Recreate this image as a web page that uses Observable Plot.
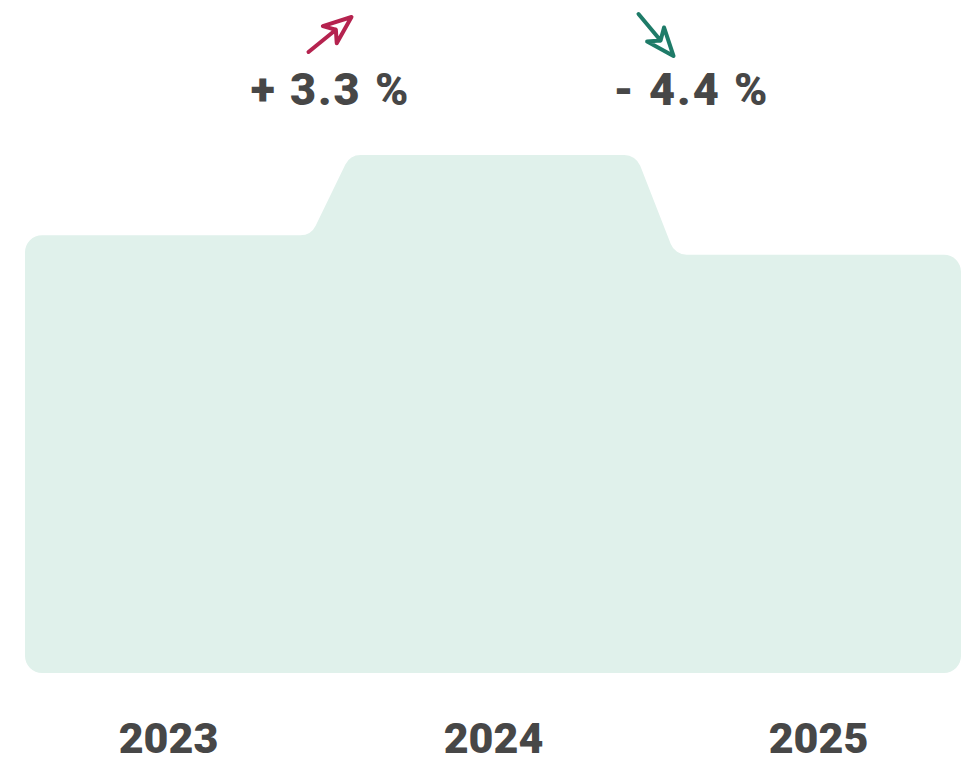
<!DOCTYPE html>
<html><head><meta charset="utf-8">
<script src="https://cdn.jsdelivr.net/npm/d3@7"></script>
<script src="https://cdn.jsdelivr.net/npm/@observablehq/plot@0.6"></script>
<style>
html,body{margin:0;padding:0;background:#fff;}
#chart svg{display:block}
</style></head><body><div id="chart"></div>
<script>
// ---- data ----
const years = [2023, 2024, 2025];
const values = [100, 103.3, 99.2];
const yBaseline = 82;
const changeLabels = ["+ 3.3 %", "- 4.4 %"];
const changeDirections = ["up", "down"];
const tickLabels = ["2023", "2024", "2025"];

// ---- style constants ----
const HALF = 0.44;                 // half band width (in year units)
const FILL = "#e0f1eb";
const TEXT = "#474747";
const UP = "#b5234f";
const DOWN = "#1e7b68";
const FONT = "Roboto, 'Liberation Sans', Arial, sans-serif";

const areaData = years.flatMap((yr, i) => [
  {x: yr - HALF, v: values[i]},
  {x: yr + HALF, v: values[i]}
]);

// custom d3 curve: polygon with rounded corners
class RoundedCurve {
  constructor(ctx, r) { this._ctx = ctx; this._r = r; this._area = false; this._pts = []; }
  areaStart() { this._area = true; this._pts = []; }
  areaEnd() { this._draw(true); this._area = false; }
  lineStart() { if (!this._area) this._pts = []; }
  lineEnd() { if (!this._area) this._draw(false); }
  point(x, y) { this._pts.push([+x, +y]); }
  _clean(pts, closed) {
    let p = pts.filter((q, i) => i === 0 || Math.hypot(q[0] - pts[i-1][0], q[1] - pts[i-1][1]) > 1e-6);
    if (closed && p.length > 1 && Math.hypot(p[0][0]-p[p.length-1][0], p[0][1]-p[p.length-1][1]) < 1e-6) p.pop();
    let changed = true;
    while (changed && p.length > 3) {
      changed = false;
      const n = p.length;
      for (let i = 0; i < n; i++) {
        if (!closed && (i === 0 || i === n - 1)) continue;
        const a = p[(i - 1 + n) % n], b = p[i], c = p[(i + 1) % n];
        const cr = (b[0]-a[0])*(c[1]-b[1]) - (b[1]-a[1])*(c[0]-b[0]);
        if (Math.abs(cr) < 1e-6) { p.splice(i, 1); changed = true; break; }
      }
    }
    return p;
  }
  _rad(a, b, c) {
    const ux = a[0]-b[0], uy = a[1]-b[1], vx = c[0]-b[0], vy = c[1]-b[1];
    const la = Math.hypot(ux, uy), lb = Math.hypot(vx, vy);
    const cos = Math.max(-1, Math.min(1, (ux*vx + uy*vy) / (la*lb)));
    const alpha = Math.acos(cos);
    const rmax = Math.min(la, lb) / 2 * Math.tan(alpha / 2);
    return Math.min(this._r, rmax);
  }
  _draw(closed) {
    const ctx = this._ctx;
    const p = this._clean(this._pts, closed);
    const n = p.length;
    if (n < 3) { p.forEach((q, i) => i ? ctx.lineTo(q[0], q[1]) : ctx.moveTo(q[0], q[1])); return; }
    if (closed) {
      const l = p[n-1], f = p[0];
      ctx.moveTo((l[0]+f[0])/2, (l[1]+f[1])/2);
      for (let i = 0; i < n; i++) {
        const a = p[(i-1+n)%n], b = p[i], c = p[(i+1)%n];
        ctx.arcTo(b[0], b[1], c[0], c[1], this._rad(a, b, c));
      }
      ctx.closePath();
    } else {
      ctx.moveTo(p[0][0], p[0][1]);
      for (let i = 1; i < n - 1; i++) ctx.arcTo(p[i][0], p[i][1], p[i+1][0], p[i+1][1], this._rad(p[i-1], p[i], p[i+1]));
      ctx.lineTo(p[n-1][0], p[n-1][1]);
    }
    this._pts = [];
  }
}
const roundedCurve = r => ctx => new RoundedCurve(ctx, r);

function arrowPath(x1, y1, x2, y2, headLen, headW) {
  const dx = x2 - x1, dy = y2 - y1, L = Math.hypot(dx, dy);
  const ux = dx / L, uy = dy / L, nx = -uy, ny = ux;
  const bx = x2 - ux * headLen, by = y2 - uy * headLen;
  const kx = x2 - ux * headLen * 0.72, ky = y2 - uy * headLen * 0.72;
  const w1 = [bx + nx * headW, by + ny * headW], w2 = [bx - nx * headW, by - ny * headW];
  return `M${x1},${y1}L${kx},${ky}M${kx},${ky}L${w1[0]},${w1[1]}L${x2},${y2}L${w2[0]},${w2[1]}Z`;
}

function annotations(index, scales, channels, dimensions) {
  let xs = scales && typeof scales.x === "function" ? scales.x : null;
  if (!xs) xs = d3.scaleLinear([years[0]-HALF, years[years.length-1]+HALF],
                               [dimensions.marginLeft, dimensions.width - dimensions.marginRight]);
  const g = d3.create("svg:g");
  const labelDx = [0, 36];
  for (let i = 0; i < years.length - 1; i++) {
    const cx = xs((years[i] + years[i+1]) / 2);
    const up = changeDirections[i] === "up";
    const d = up ? arrowPath(cx - 22, 52, cx + 21, 17, 28, 11)
                 : arrowPath(cx - 17, 14, cx + 18, 56, 28, 11);
    g.append("path").attr("d", d).attr("fill", "none")
      .attr("stroke", up ? UP : DOWN).attr("stroke-width", 4)
      .attr("stroke-linejoin", "round").attr("stroke-linecap", "round");
    g.append("text").attr("x", cx + labelDx[i]).attr("y", 105)
      .attr("text-anchor", "middle").attr("font-family", FONT)
      .attr("font-size", 45).attr("font-weight", 900)
      .attr("letter-spacing", 2)
      .attr("fill", TEXT).attr("xml:space", "preserve")
      .text(changeLabels[i]);
  }
  return g.node();
}

const chart = Plot.plot({
  width: 968, height: 760,
  marginTop: 155, marginBottom: 87, marginLeft: 25, marginRight: 7,
  x: {domain: [years[0] - HALF, years[years.length - 1] + HALF]},
  y: {domain: [yBaseline, d3.max(values)], axis: null},
  style: {fontFamily: FONT, background: "#fff", color: TEXT},
  marks: [
    Plot.areaY(areaData, {x: "x", y1: () => yBaseline, y2: "v", fill: FILL, curve: roundedCurve(17)}),
    Plot.axisX(years, {tickSize: 0, tickPadding: 49, tickFormat: (d) => tickLabels[years.indexOf(d)],
                       fontSize: 43, fontWeight: 900, label: null, fill: TEXT}),
    annotations
  ]
});
document.getElementById("chart").appendChild(chart);
</script></body></html>
